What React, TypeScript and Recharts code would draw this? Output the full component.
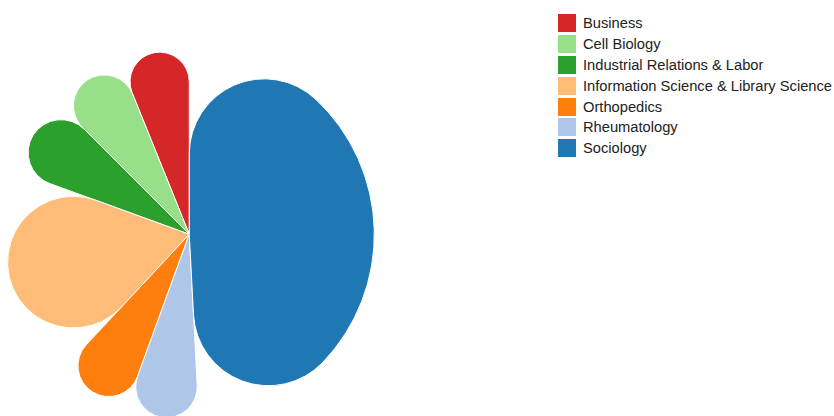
import { Legend, Pie, PieChart } from 'recharts'

const categories = [
  'Business',
  'Cell Biology',
  'Industrial Relations & Labor',
  'Information Science & Library Science',
  'Orthopedics',
  'Rheumatology',
  'Sociology',
]
const counts = [22, 23, 25, 67, 23, 23, 177]
const colors = ['#d62728', '#98df8a', '#2ca02c', '#ffbb78', '#ff7f0e', '#aec7e8', '#1f77b4']

const data = categories.map((name, i) => ({ name, value: counts[i], fill: colors[i] }))

const RAD = Math.PI / 180
const CORNER = 75

// d3-style rounded sector, inner radius 0
function sectorPath(cx: number, cy: number, R: number, startAngle: number, endAngle: number, cr: number) {
  const lo = Math.min(startAngle, endAngle) * RAD
  const hi = Math.max(startAngle, endAngle) * RAD
  const da = hi - lo
  let c = Math.min(cr, R / 2)
  if (da < Math.PI) {
    const s = Math.sin(da / 2)
    c = Math.min(c, (R * s) / (1 + s))
  }
  const pt = (r: number, a: number) => [cx + r * Math.cos(a), cy - r * Math.sin(a)]
  const d = R - c
  const phi = Math.asin(c / d)
  const t = Math.sqrt(d * d - c * c)
  const [x0, y0] = pt(t, lo)
  const [x1, y1] = pt(t, hi)
  if (lo + phi >= hi - phi - 1e-6) {
    return `M${cx},${cy}L${x0},${y0}A${c},${c} 0 1 0 ${x1},${y1}Z`
  }
  const [ax, ay] = pt(R, lo + phi)
  const [bx, by] = pt(R, hi - phi)
  const large = da - 2 * phi > Math.PI ? 1 : 0
  return `M${cx},${cy}L${x0},${y0}A${c},${c} 0 0 0 ${ax},${ay}A${R},${R} 0 ${large} 0 ${bx},${by}A${c},${c} 0 0 0 ${x1},${y1}Z`
}

const RoundedSector = (props: any) => {
  const { cx, cy, outerRadius, startAngle, endAngle, fill } = props
  return (
    <path
      d={sectorPath(cx, cy, outerRadius, startAngle, endAngle, CORNER)}
      fill={fill}
      stroke='#fff'
      strokeWidth={1}
    />
  )
}

const LegendBox = ({ payload }: any) => (
  <div style={{ fontFamily: '"Liberation Sans", Arial, sans-serif', fontSize: 14.7, color: '#222' }}>
    {(payload || []).map((item: any) => (
      <div key={item.value} style={{ display: 'flex', alignItems: 'center', height: 20.8 }}>
        <div style={{ width: 18, height: 18, background: item.color, marginRight: 7 }} />
        <span style={{ whiteSpace: 'nowrap' }}>{item.value}</span>
      </div>
    ))}
  </div>
)

export default function App() {
  return (
    <div style={{ position: 'absolute', left: 0, top: 0 }}>
      <PieChart width={834} height={416}>
        <Pie
          data={data}
          dataKey='value'
          nameKey='name'
          cx={184.3}
          cy={229.3}
          innerRadius={0}
          outerRadius={185}
          startAngle={90}
          endAngle={450}
          stroke='#fff'
          shape={RoundedSector}
          isAnimationActive={false}
        />
        <Legend
          layout='vertical'
          align='right'
          verticalAlign='top'
          content={<LegendBox />}
          wrapperStyle={{ left: 558, top: 13, right: 'auto', width: 280 }}
        />
      </PieChart>
    </div>
  )
}
